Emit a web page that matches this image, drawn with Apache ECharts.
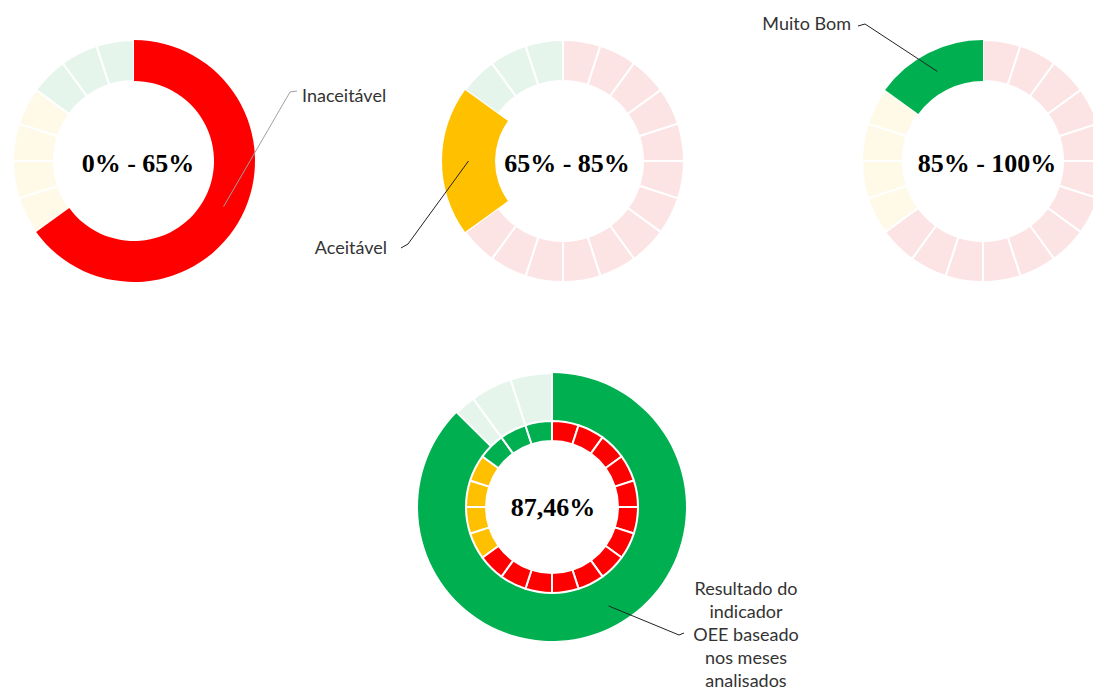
<!DOCTYPE html>
<html>
<head>
<meta charset="utf-8">
<script src="https://cdn.jsdelivr.net/npm/echarts@6/dist/echarts.min.js"></script>
<style>
html,body{margin:0;padding:0;background:#fff;}
#chart{width:1093px;height:691px;}
</style>
</head>
<body>
<div id="chart"></div>
<script>
// ---------------- data ----------------
const bandNames = ['Inaceitável', 'Aceitável', 'Muito Bom'];
const bandLimits = [0, 65, 85, 100];
const bandRangeLabels = ['0% - 65%', '65% - 85%', '85% - 100%'];
const segmentStep = 5;
const oeeValue = 87.46;
const oeeText = '87,46%';
const oeeNote = 'Resultado do\nindicador\nOEE baseado\nnos meses\nanalisados';

// ---------------- styles / layout ----------------
const solidColors = ['#FF0000', '#FFC000', '#00B050'];
const fadedColors = ['#FCE3E4', '#FFF9E8', '#E6F5EC'];
const donutCenters = [[134, 161], [563, 161], [983, 161]];
const ringRadius = [80, 121];
const highlightRadius = [[80, 121], [68, 121], [80, 121]];
const labelLayouts = [
  { x: 302, y: 95, align: 'left', bend: [290, 92], end: [297, 91], lineColor: '#a0a0a0' },
  { x: 387, y: 247, align: 'right', bend: [408, 244], end: [401, 248], lineColor: '#222' },
  { x: 851, y: 23, align: 'right', bend: [865, 24], end: [858, 26], lineColor: '#222' }
];
const bigCenter = [552, 507];
const bigOuterRadius = [86, 134];
const bigInnerRadius = [66, 86];
const noteLayout = { x: 746, y: 634, lineHeight: 23, bend: [679, 635], end: [684, 633], lineColor: '#222' };
const labelFont = { fontFamily: 'Lato', fontSize: 18, color: '#333' };
const centerFont = 'bold 26px "Liberation Serif"';
const transparent = 'rgba(0,0,0,0)';

function polar(c, pct, r) {
  const a = pct / 100 * 2 * Math.PI;
  return [c[0] + r * Math.sin(a), c[1] - r * Math.cos(a)];
}

function buildSegments() {
  const out = [];
  for (let b = 0; b < bandNames.length; b++) {
    for (let v = bandLimits[b]; v < bandLimits[b + 1]; v += segmentStep) {
      out.push({ band: b, from: v, to: Math.min(v + segmentStep, bandLimits[b + 1]) });
    }
  }
  return out;
}
const segments = buildSegments();

const series = [];
const graphics = [];
const pieBase = { type: 'pie', startAngle: 90, clockwise: true, silent: true, animation: false,
  avoidLabelOverlap: false, label: { show: false }, labelLine: { show: false } };

// three reference donuts
for (let i = 0; i < 3; i++) {
  const c = donutCenters[i];
  const lo = bandLimits[i], hi = bandLimits[i + 1];
  const L = labelLayouts[i];
  // faded scale ring
  series.push(Object.assign({}, pieBase, {
    center: c, radius: ringRadius, z: 2,
    data: segments.map(s => ({
      value: s.to - s.from, name: bandNames[s.band],
      itemStyle: { color: fadedColors[s.band], borderColor: '#fff', borderWidth: 2 }
    }))
  }));
  // highlighted band
  series.push(Object.assign({}, pieBase, {
    center: c, radius: highlightRadius[i], z: 3,
    data: [
      { value: lo, name: 'gap', itemStyle: { color: transparent, borderWidth: 0 } },
      { value: hi - lo, name: bandNames[i], itemStyle: { color: solidColors[i], borderWidth: 0 } },
      { value: 100 - hi, name: 'rest', itemStyle: { color: transparent, borderWidth: 0 } }
    ]
  }));
  // label overlay (drawn above the band so the leader line shows over it)
  const rMid = (highlightRadius[i][0] + highlightRadius[i][1]) / 2;
  const start = polar(c, (lo + hi) / 2, rMid);
  series.push(Object.assign({}, pieBase, {
    center: c, radius: highlightRadius[i], z: 5,
    data: [
      { value: lo, name: 'gap', itemStyle: { color: transparent, borderWidth: 0 } },
      { value: hi - lo, name: bandNames[i], itemStyle: { color: transparent, borderWidth: 0 },
        label: Object.assign({ show: true, position: 'outside', formatter: '{b}' }, labelFont),
        labelLine: { show: true, lineStyle: { color: L.lineColor, width: 1 } } },
      { value: 100 - hi, name: 'rest', itemStyle: { color: transparent, borderWidth: 0 } }
    ],
    labelLayout: function (p) {
      if (p.dataIndex !== 1) return {};
      return { x: L.x, y: L.y, align: L.align, verticalAlign: 'middle',
        labelLinePoints: [start, L.bend, L.end] };
    }
  }));
  graphics.push({
    type: 'text', x: c[0] + 4, y: c[1] + 2, z: 10,
    style: { text: bandRangeLabels[i], font: centerFont, fill: '#000',
      align: 'center', verticalAlign: 'middle', textAlign: 'center', textVerticalAlign: 'middle' }
  });
}

// result donut: outer ring (OEE) + inner ring (scale)
const outerData = [{ value: oeeValue, name: oeeNote, itemStyle: { color: solidColors[2], borderWidth: 0 } }];
let cut = oeeValue;
while (cut < 100) {
  const next = Math.min(100, (Math.floor(cut / segmentStep) + 1) * segmentStep);
  outerData.push({ value: next - cut, name: 'faded',
    itemStyle: { color: fadedColors[2], borderColor: '#fff', borderWidth: 2 } });
  cut = next;
}
series.push(Object.assign({}, pieBase, {
  center: bigCenter, radius: bigOuterRadius, z: 2, data: outerData
}));
series.push(Object.assign({}, pieBase, {
  center: bigCenter, radius: bigInnerRadius, z: 3,
  data: segments.map(s => ({
    value: s.to - s.from, name: bandNames[s.band],
    itemStyle: { color: solidColors[s.band], borderColor: '#fff', borderWidth: 2 }
  }))
}));
const noteStart = polar(bigCenter, oeeValue / 2 - 2, 114);
series.push(Object.assign({}, pieBase, {
  center: bigCenter, radius: bigOuterRadius, z: 5,
  data: outerData.map((d, k) => k === 0 ? {
    value: d.value, name: d.name, itemStyle: { color: transparent, borderWidth: 0 },
    label: Object.assign({ show: true, position: 'outside', formatter: '{b}', align: 'center', lineHeight: noteLayout.lineHeight }, labelFont),
    labelLine: { show: true, lineStyle: { color: noteLayout.lineColor, width: 1 } }
  } : { value: d.value, name: d.name, itemStyle: { color: transparent, borderWidth: 0 } }),
  labelLayout: function (p) {
    if (p.dataIndex !== 0) return {};
    return { x: noteLayout.x, y: noteLayout.y, align: 'center', verticalAlign: 'middle',
      labelLinePoints: [noteStart, noteLayout.bend, noteLayout.end] };
  }
}));
graphics.push({
  type: 'text', x: bigCenter[0] + 1, y: bigCenter[1], z: 10,
  style: { text: oeeText, font: centerFont, fill: '#000',
    align: 'center', verticalAlign: 'middle', textAlign: 'center', textVerticalAlign: 'middle' }
});

const chart = echarts.init(document.getElementById('chart'), null, { renderer: 'svg' });
chart.setOption({
  backgroundColor: '#fff',
  animation: false,
  series: series,
  graphic: graphics
});
</script>
</body>
</html>
